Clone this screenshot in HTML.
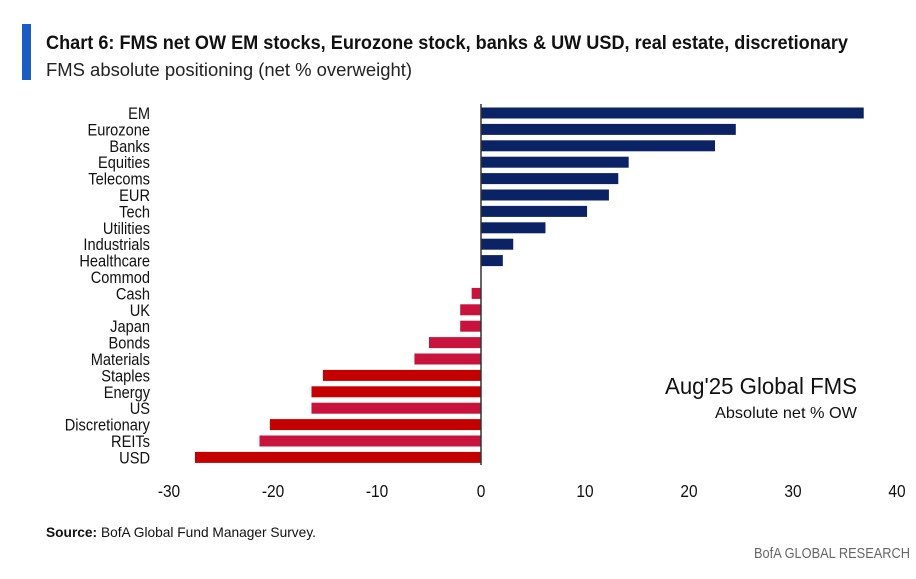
<!DOCTYPE html>
<html><head><meta charset="utf-8"><style>
body{margin:0;background:#fff;width:916px;height:574px;overflow:hidden;font-family:"Liberation Sans",sans-serif}
</style></head><body>
<svg width="916" height="574" viewBox="0 0 916 574" font-family="Liberation Sans, sans-serif">
<rect x="22" y="24" width="9" height="56" fill="#1a5bc4"/>
<text x="46" y="49" font-size="19" font-weight="bold" fill="#111" textLength="802" lengthAdjust="spacingAndGlyphs">Chart 6: FMS net OW EM stocks, Eurozone stock, banks &amp; UW USD, real estate, discretionary</text>
<text x="46" y="76" font-size="18" fill="#222" textLength="366" lengthAdjust="spacingAndGlyphs">FMS absolute positioning (net % overweight)</text>
<g id="plot"></g>
<text x="857" y="394" font-size="23" fill="#111" text-anchor="end" textLength="192" lengthAdjust="spacingAndGlyphs">Aug'25 Global FMS</text>
<text x="857" y="418" font-size="16" fill="#111" text-anchor="end" textLength="142" lengthAdjust="spacingAndGlyphs">Absolute net % OW</text>
<text x="46" y="537" font-size="14" fill="#111" textLength="270" lengthAdjust="spacingAndGlyphs"><tspan font-weight="bold">Source:</tspan> BofA Global Fund Manager Survey.</text>
<text x="910" y="558" font-size="15" fill="#666" text-anchor="end" textLength="156" lengthAdjust="spacingAndGlyphs">BofA GLOBAL RESEARCH</text>
</svg>
<script>
const categories=["EM","Eurozone","Banks","Equities","Telecoms","EUR","Tech","Utilities","Industrials","Healthcare","Commod","Cash","UK","Japan","Bonds","Materials","Staples","Energy","US","Discretionary","REITs","USD"];
const values=[36.8,24.5,22.5,14.2,13.2,12.3,10.2,6.2,3.1,2.1,0,-0.9,-2,-2,-5,-6.4,-15.2,-16.3,-16.3,-20.3,-21.3,-27.5];
const shade=[0,0,0,0,0,0,0,0,0,0,0,1,1,1,1,1,2,2,1,2,1,2];
const tickValues=[-30,-20,-10,0,10,20,30,40];
const tickLabels=["-30","-20","-10","0","10","20","30","40"];
const colors=["#0b2265","#c8143c","#c40000"];
const NS="http://www.w3.org/2000/svg";
const plot=document.getElementById('plot');
const x=v=>481+v*10.4;
const y=i=>113+i*16.4;
function mk(t,a){const e=document.createElementNS(NS,t);for(const k in a)e.setAttribute(k,a[k]);plot.appendChild(e);return e;}
categories.forEach((c,i)=>{
  const v=values[i];
  if(v!==0){
    const r=mk('rect',{x:Math.min(x(0),x(v)),y:y(i)-5.5,width:Math.abs(x(v)-x(0)),height:11,fill:colors[shade[i]]});
    
    
  }
  const t=mk('text',{x:150,y:y(i)+6,'font-size':17,'text-anchor':'end',fill:'#111'});
  t.setAttribute('transform','translate(150 0) scale(0.86 1) translate(-150 0)');
  t.textContent=c;
  
  
});
const ax=mk('line',{x1:x(0),x2:x(0),y1:104,y2:465,stroke:'#333','stroke-width':1.5});


tickValues.forEach((v,i)=>{
  const t=mk('text',{x:x(v),y:497,'font-size':18,'text-anchor':'middle',fill:'#111'});
  t.setAttribute('transform','translate('+x(v)+' 0) scale(0.86 1) translate('+(-x(v))+' 0)');
  t.textContent=tickLabels[i];
  
  
});
</script>
</body></html>
